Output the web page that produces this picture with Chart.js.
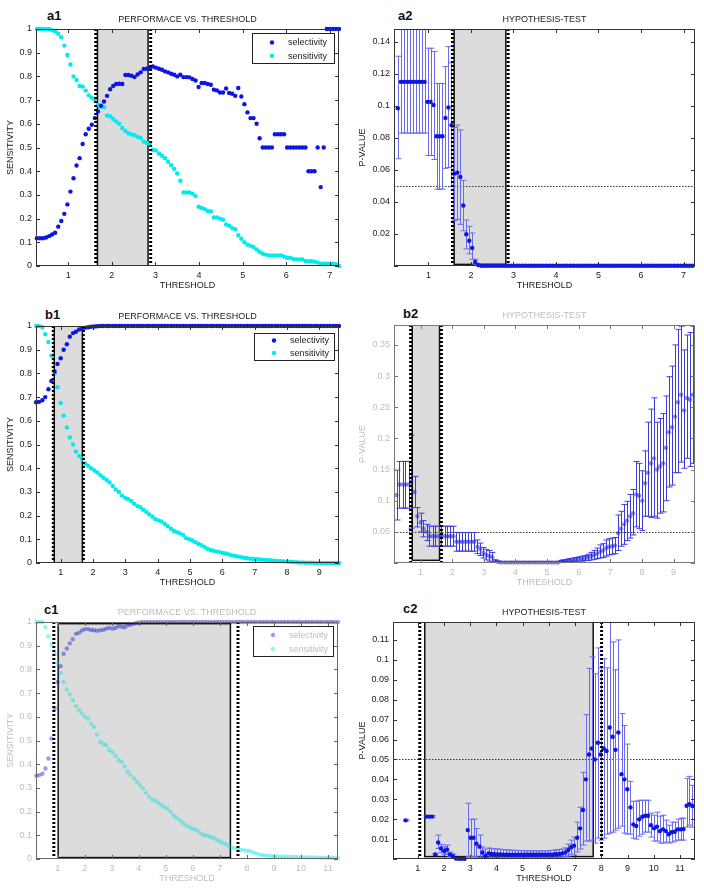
<!DOCTYPE html>
<html>
<head>
<meta charset="utf-8">
<script src="https://cdn.jsdelivr.net/npm/chart.js@4.4.1/dist/chart.umd.min.js"></script>
<style>
body { margin: 0; background: #fff; width: 704px; height: 891px; position: relative; overflow: hidden; font-family: 'Liberation Sans', Arial, sans-serif; }
canvas { position: absolute; }
.tag { position: absolute; font-weight: bold; font-size: 13px; line-height: 13px; color: #111; }
</style>
</head>
<body>
<div class="tag" style="left:47px;top:9px">a1</div>
<div class="tag" style="left:398px;top:9px">a2</div>
<div class="tag" style="left:45px;top:308px">b1</div>
<div class="tag" style="left:403px;top:307px">b2</div>
<div class="tag" style="left:44px;top:603px">c1</div>
<div class="tag" style="left:403px;top:602px">c2</div>
<canvas id="a1"></canvas>
<canvas id="a2"></canvas>
<canvas id="b1"></canvas>
<canvas id="b2"></canvas>
<canvas id="c1"></canvas>
<canvas id="c2"></canvas>
<script>
// ---- thresholds (x values) ----
const thrA = [0.28,0.35,0.42,0.49,0.56,0.63,0.70,0.77,0.84,0.91,
  0.98,1.05,1.12,1.19,1.26,1.33,1.40,1.47,1.54,1.61,
  1.68,1.75,1.82,1.89,1.96,2.03,2.10,2.17,2.24,2.31,
  2.38,2.45,2.52,2.59,2.66,2.73,2.80,2.87,2.94,3.01,
  3.08,3.15,3.22,3.29,3.36,3.43,3.50,3.57,3.64,3.71,
  3.78,3.85,3.92,3.99,4.06,4.13,4.20,4.27,4.34,4.41,
  4.48,4.55,4.62,4.69,4.76,4.83,4.90,4.97,5.04,5.11,
  5.18,5.25,5.32,5.39,5.46,5.53,5.60,5.67,5.74,5.81,
  5.88,5.95,6.02,6.09,6.16,6.23,6.30,6.37,6.44,6.51,
  6.58,6.65,6.72,6.79,6.86,6.93,7.00,7.07,7.14,7.21];

const thrB = [0.24,0.33,0.43,0.52,0.62,0.71,0.81,0.90,1.00,1.09,
  1.19,1.28,1.38,1.47,1.57,1.66,1.76,1.85,1.94,2.04,
  2.13,2.23,2.32,2.42,2.51,2.61,2.70,2.80,2.89,2.99,
  3.08,3.18,3.27,3.37,3.46,3.55,3.65,3.74,3.84,3.93,
  4.03,4.12,4.22,4.31,4.41,4.50,4.60,4.69,4.79,4.88,
  4.98,5.07,5.16,5.26,5.35,5.45,5.54,5.64,5.73,5.83,
  5.92,6.02,6.11,6.21,6.30,6.40,6.49,6.58,6.68,6.77,
  6.87,6.96,7.06,7.15,7.25,7.34,7.44,7.53,7.63,7.72,
  7.82,7.91,8.01,8.10,8.19,8.29,8.38,8.48,8.57,8.67,
  8.76,8.86,8.95,9.05,9.14,9.24,9.33,9.43,9.52,9.61];

const thrC1 = [0.21,0.32,0.44,0.55,0.66,0.77,0.89,1.00,1.11,1.22,
  1.34,1.45,1.56,1.68,1.79,1.90,2.01,2.13,2.24,2.35,
  2.46,2.58,2.69,2.80,2.91,3.03,3.14,3.25,3.37,3.48,
  3.59,3.70,3.82,3.93,4.04,4.15,4.27,4.38,4.49,4.61,
  4.72,4.83,4.94,5.06,5.17,5.28,5.39,5.51,5.62,5.73,
  5.85,5.96,6.07,6.18,6.30,6.41,6.52,6.63,6.75,6.86,
  6.97,7.08,7.20,7.31,7.42,7.54,7.65,7.76,7.87,7.99,
  8.10,8.21,8.32,8.44,8.55,8.66,8.77,8.89,9.00,9.11,
  9.23,9.34,9.45,9.56,9.68,9.79,9.90,10.01,10.13,10.24,
  10.35,10.46,10.58,10.69,10.80,10.92,11.03,11.14,11.25,11.37];

const thrC2 = [0.54,0.65,0.77,0.88,0.99,1.10,1.22,1.33,1.44,1.55,
  1.67,1.78,1.89,2.01,2.12,2.23,2.34,2.46,2.57,2.68,
  2.79,2.91,3.02,3.13,3.24,3.36,3.47,3.58,3.70,3.81,
  3.92,4.03,4.15,4.26,4.37,4.48,4.60,4.71,4.82,4.94,
  5.05,5.16,5.27,5.39,5.50,5.61,5.72,5.84,5.95,6.06,
  6.18,6.29,6.40,6.51,6.63,6.74,6.85,6.96,7.08,7.19,
  7.30,7.41,7.53,7.64,7.75,7.87,7.98,8.09,8.20,8.32,
  8.43,8.54,8.65,8.77,8.88,8.99,9.11,9.22,9.33,9.44,
  9.56,9.67,9.78,9.89,10.01,10.12,10.23,10.35,10.46,10.57,
  10.68,10.80,10.91,11.02,11.13,11.25,11.36,11.47];

// ---- panel a ----
const a1Selectivity = [0.117,0.117,0.117,0.12,0.126,0.133,0.14,0.166,0.19,0.22,
  0.26,0.314,0.37,0.424,0.455,0.515,0.556,0.579,0.596,0.624,
  0.652,0.676,0.694,0.718,0.746,0.76,0.768,0.769,0.768,0.806,
  0.806,0.803,0.797,0.808,0.817,0.831,0.832,0.835,0.842,0.837,
  0.832,0.828,0.821,0.817,0.811,0.807,0.8,0.807,0.797,0.797,
  0.796,0.789,0.783,0.755,0.772,0.772,0.768,0.765,0.744,0.741,
  0.732,0.732,0.749,0.73,0.727,0.718,0.751,0.715,0.683,0.648,
  0.624,0.624,0.6,0.539,0.5,0.5,0.5,0.5,0.556,0.556,
  0.556,0.556,0.5,0.5,0.5,0.5,0.5,0.5,0.5,0.4,
  0.4,0.4,0.5,0.333,0.5,1,1,1,1,1];
const a1Sensitivity = [1,1,1,1,1,0.995,0.99,0.98,0.965,0.93,
  0.89,0.85,0.8,0.785,0.76,0.757,0.74,0.72,0.71,0.7,
  0.68,0.672,0.67,0.635,0.632,0.62,0.61,0.6,0.582,0.57,
  0.56,0.555,0.552,0.545,0.54,0.525,0.52,0.515,0.49,0.488,
  0.475,0.465,0.455,0.44,0.425,0.41,0.39,0.36,0.31,0.31,
  0.31,0.305,0.295,0.25,0.245,0.24,0.232,0.23,0.205,0.205,
  0.2,0.195,0.175,0.17,0.16,0.155,0.13,0.115,0.1,0.09,
  0.085,0.08,0.07,0.06,0.052,0.048,0.045,0.045,0.045,0.045,
  0.045,0.04,0.035,0.035,0.03,0.028,0.028,0.028,0.02,0.02,
  0.02,0.018,0.015,0.01,0.01,0.01,0.01,0.01,0.008,0];
const a2PValue = [0.0985,0.115,0.115,0.115,0.115,0.115,0.115,0.115,0.115,0.115,
  0.1025,0.1025,0.1005,0.081,0.081,0.081,0.0925,0.099,0.088,0.0577,
  0.0583,0.0556,0.0378,0.0198,0.0158,0.0113,0.0025,0.0006,0.0002,0.0002,
  0.0002,0.0002,0.0002,0.0002,0.0002,0.0002,0.0002,0.0002,0.0002,0.0002,
  0.0002,0.0002,0.0002,0.0002,0.0002,0.0002,0.0002,0.0002,0.0002,0.0002,
  0.0002,0.0002,0.0002,0.0002,0.0002,0.0002,0.0002,0.0002,0.0002,0.0002,
  0.0002,0.0002,0.0002,0.0002,0.0002,0.0002,0.0002,0.0002,0.0002,0.0002,
  0.0002,0.0002,0.0002,0.0002,0.0002,0.0002,0.0002,0.0002,0.0002,0.0002,
  0.0002,0.0002,0.0002,0.0002,0.0002,0.0002,0.0002,0.0002,0.0002,0.0002,
  0.0002,0.0002,0.0002,0.0002,0.0002,0.0002,0.0002,0.0002,0.0002,0.0002];
const a2Low = [0.067,0.083,0.083,0.083,0.083,0.083,0.083,0.083,0.083,0.083,
  0.069,0.069,0.0665,0.048,0.048,0.048,0.061,0.0615,0.0495,0.0285,
  0.029,0.026,0.022,0.0107,0.0076,0.0042,0.0008,0.0002];
const a2High = [0.131,0.152,0.152,0.152,0.152,0.152,0.152,0.152,0.152,0.152,
  0.136,0.136,0.134,0.114,0.114,0.114,0.1245,0.137,0.127,0.0865,
  0.088,0.085,0.0535,0.0287,0.0248,0.0206,0.0042,0.001];

// ---- panel b ----
const b1Selectivity = [0.678,0.68,0.687,0.7,0.733,0.768,0.808,0.84,0.864,0.9,
  0.923,0.955,0.97,0.976,0.985,0.99,0.993,0.995,0.997,0.998,
  0.999,1,1,1,1,1,1,1,1,1,
  1,1,1,1,1,1,1,1,1,1,
  1,1,1,1,1,1,1,1,1,1,
  1,1,1,1,1,1,1,1,1,1,
  1,1,1,1,1,1,1,1,1,1,
  1,1,1,1,1,1,1,1,1,1,
  1,1,1,1,1,1,1,1,1,1,
  1,1,1,1,1,1,1,1,1,1];
const b1Sensitivity = [1,1,0.995,0.965,0.932,0.875,0.8,0.742,0.675,0.622,
  0.572,0.53,0.5,0.47,0.452,0.44,0.42,0.41,0.4,0.39,
  0.382,0.37,0.36,0.35,0.34,0.325,0.31,0.3,0.285,0.275,
  0.27,0.262,0.25,0.24,0.235,0.225,0.215,0.205,0.195,0.185,
  0.18,0.175,0.165,0.155,0.145,0.135,0.13,0.125,0.118,0.105,
  0.1,0.095,0.088,0.08,0.075,0.068,0.06,0.055,0.052,0.048,
  0.046,0.042,0.04,0.036,0.032,0.03,0.027,0.025,0.022,0.02,
  0.018,0.017,0.016,0.015,0.014,0.013,0.012,0.011,0.01,0.009,
  0.008,0.007,0.006,0.005,0.004,0.003,0.002,0.002,0.001,0.001,
  0.001,0,0,0,0,0,0,0,0,0];
const b2PValue = [0.109,0.126,0.126,0.126,0.126,0.13,0.114,0.075,0.065,0.055,
  0.05,0.043,0.043,0.043,0.043,0.043,0.043,0.043,0.043,0.043,
  0.034,0.034,0.034,0.034,0.034,0.034,0.034,0.026,0.022,0.016,
  0.013,0.011,0.009,0.003,0.0015,0.001,0.001,0.001,0.001,0.001,
  0.001,0.001,0.001,0.001,0.001,0.001,0.001,0.001,0.001,0.001,
  0.001,0.001,0.001,0.001,0.001,0.003,0.003,0.004,0.004,0.005,
  0.006,0.006,0.007,0.008,0.009,0.011,0.013,0.015,0.018,0.02,
  0.024,0.026,0.027,0.028,0.048,0.055,0.062,0.068,0.075,0.08,
  0.11,0.108,0.1,0.128,0.145,0.16,0.168,0.15,0.155,0.16,
  0.185,0.21,0.218,0.235,0.258,0.27,0.245,0.265,0.262,0.27];
const b2Low = [0.069,0.088,0.088,0.088,0.088,0.056,0.089,0.058,0.05,0.042,
  0.036,0.027,0.027,0.027,0.027,0.027,0.027,0.027,0.027,0.027,
  0.019,0.019,0.019,0.019,0.019,0.019,0.019,0.015,0.012,0.008,
  0.005,0.003,0.002,0.001,0.0005,0.0005,0.0005,0.0005,0.0005,0.0005,
  0.0005,0.0005,0.0005,0.0005,0.0005,0.0005,0.0005,0.0005,0.0005,0.0005,
  0.0005,0.0005,0.0005,0.0005,0.0005,0.002,0.002,0.002,0.002,0.003,
  0.003,0.003,0.003,0.004,0.004,0.005,0.006,0.007,0.008,0.009,
  0.011,0.013,0.014,0.015,0.02,0.027,0.03,0.036,0.04,0.045,
  0.058,0.055,0.052,0.075,0.075,0.073,0.075,0.072,0.08,0.082,
  0.1,0.122,0.125,0.145,0.145,0.162,0.152,0.168,0.155,0.16];
const b2High = [0.149,0.163,0.163,0.163,0.163,0.205,0.139,0.089,0.08,0.068,
  0.062,0.059,0.059,0.059,0.059,0.059,0.059,0.059,0.059,0.059,
  0.049,0.049,0.049,0.049,0.049,0.049,0.049,0.037,0.032,0.025,
  0.022,0.02,0.017,0.005,0.003,0.0015,0.0015,0.0015,0.0015,0.0015,
  0.0015,0.0015,0.0015,0.0015,0.0015,0.0015,0.0015,0.0015,0.0015,0.0015,
  0.0015,0.0015,0.0015,0.0015,0.0015,0.004,0.005,0.006,0.007,0.008,
  0.009,0.01,0.011,0.012,0.014,0.017,0.02,0.024,0.029,0.031,
  0.037,0.039,0.04,0.041,0.077,0.083,0.094,0.099,0.11,0.118,
  0.163,0.16,0.148,0.18,0.226,0.247,0.265,0.226,0.232,0.24,
  0.268,0.299,0.316,0.35,0.375,0.38,0.342,0.366,0.37,0.38];

// ---- panel c ----
const c1Selectivity = [0.351,0.354,0.36,0.382,0.424,0.508,0.635,0.747,0.813,0.866,
  0.888,0.91,0.927,0.95,0.955,0.964,0.97,0.97,0.966,0.965,
  0.963,0.965,0.967,0.972,0.976,0.972,0.975,0.982,0.98,0.978,
  0.986,0.988,0.993,0.997,0.998,1,1,1,1,1,
  1,1,1,1,1,1,1,1,1,1,
  1,1,1,1,1,1,1,1,1,1,
  1,1,1,1,1,1,1,1,1,1,
  1,1,1,1,1,1,1,1,1,1,
  1,1,1,1,1,1,1,1,1,1,
  1,1,1,1,1,1,1,1,1,1];
const c1Sensitivity = [1,1,1,0.979,0.94,0.905,0.865,0.825,0.785,0.747,
  0.715,0.694,0.67,0.645,0.628,0.614,0.6,0.593,0.571,0.557,
  0.525,0.494,0.485,0.48,0.46,0.45,0.435,0.417,0.41,0.39,
  0.368,0.354,0.34,0.326,0.312,0.298,0.28,0.263,0.251,0.246,
  0.237,0.228,0.22,0.213,0.2,0.185,0.174,0.164,0.153,0.143,
  0.136,0.129,0.125,0.119,0.108,0.101,0.098,0.094,0.091,0.083,
  0.076,0.069,0.063,0.056,0.049,0.045,0.041,0.038,0.038,0.035,
  0.035,0.028,0.024,0.02,0.017,0.015,0.014,0.013,0.012,0.012,
  0.011,0.011,0.01,0.01,0.009,0.009,0.008,0.008,0.008,0.007,
  0.007,0.007,0.006,0.006,0.006,0.005,0.005,0.005,0.004,0.003];
const c2PValue = [0.0194,null,null,null,null,null,null,0.0213,0.0213,0.0213,
  0.0023,0.0083,0.0053,0.004,0.0048,0.0023,0.0015,0.0002,0.0001,0.0001,
  0.0001,0.0145,0.0107,0.0107,0.0077,0.0062,0.0033,0.0015,0.0028,0.0025,
  0.0024,0.0023,0.0023,0.0022,0.0022,0.0022,0.0021,0.0021,0.0021,0.0022,
  0.0021,0.0021,0.0022,0.0021,0.0021,0.0021,0.0022,0.0021,0.0022,0.0022,
  0.0023,0.0024,0.0025,0.0028,0.0033,0.0045,0.0059,0.0067,0.0107,0.0154,
  0.0246,0.04,0.0525,0.0555,0.05,0.0584,0.0525,0.0555,0.0542,0.066,
  0.0614,0.0548,0.0635,0.0426,0.04,0.035,0.0259,0.0174,0.0166,0.0199,
  0.0212,0.0217,0.0217,0.017,0.0154,0.0162,0.014,0.0149,0.014,0.0124,
  0.0134,0.0137,0.0149,0.0149,0.015,0.0267,0.0275,0.0266];
const c2Low = [0.019,null,null,null,null,null,null,0.0208,0.0208,0.0208,
  0.0018,0.0053,0.0032,0.0022,0.0028,0.0012,0.0008,null,null,null,
  null,0.0012,0.0012,0.0012,0.001,0.0007,0.0006,0.0005,0.0008,0.0008,
  0.0008,0.0008,0.0008,0.0008,0.0008,0.0008,0.0008,0.0008,0.0008,0.0008,
  0.0008,0.0008,0.0008,0.0008,0.0008,0.0008,0.0008,0.0008,0.0008,0.0008,
  0.0008,0.0009,0.0009,0.001,0.0012,0.0015,0.0025,0.002,0.0035,0.005,
  0.007,0.009,0.009,0.0095,0.008,0.0105,0.0095,0.0105,0.0125,0.013,
  0.0135,0.0145,0.0155,0.0165,0.013,0.0125,0.0125,0.0105,0.01,0.0115,
  0.0125,0.0135,0.0135,0.011,0.009,0.009,0.008,0.008,0.0085,0.008,
  0.0085,0.009,0.0095,0.0095,0.0095,0.016,0.017,0.016];
const c2High = [0.0198,null,null,null,null,null,null,0.0218,0.0218,0.0218,
  0.0028,0.012,0.0073,0.0062,0.007,0.0035,0.0025,null,null,null,
  null,0.028,0.02,0.02,0.0153,0.012,0.006,0.005,0.0055,0.0053,
  0.0052,0.005,0.0049,0.0047,0.0046,0.0045,0.0044,0.0043,0.0043,0.0042,
  0.0042,0.0041,0.0041,0.0041,0.0041,0.0041,0.0041,0.0041,0.0042,0.0043,
  0.0044,0.0046,0.0048,0.005,0.0056,0.0075,0.0095,0.011,0.0185,0.026,
  0.0435,0.0725,0.0957,0.1015,0.093,0.106,0.096,0.1005,0.096,0.121,
  0.109,0.095,0.11,0.073,0.067,0.0577,0.039,0.029,0.029,0.0295,
  0.0295,0.0295,0.0295,0.023,0.022,0.0235,0.0215,0.022,0.0195,0.017,
  0.0185,0.0185,0.02,0.0205,0.0205,0.0405,0.0415,0.037];

// ---- styling ----
const FONT = "'Liberation Sans', Arial, Helvetica, sans-serif";
Chart.defaults.font.family = FONT;
Chart.defaults.font.size = 9;

const INK = '#222';
const FADED = '#bdbdbd';
const BLUE = 'rgb(12,22,228)';
const CYAN = 'rgb(0,235,235)';

const fmt = v => String(+Number(v).toFixed(3));
const pts = (xs, ys) => xs.map((x, i) => ({ x, y: ys[i] }));

function deco(p) {
  return {
    id: 'deco',
    beforeDatasetsDraw(chart) {
      const { ctx, chartArea: a, scales: { x, y } } = chart;
      ctx.save();
      ctx.beginPath();
      ctx.rect(a.left, a.top, a.width, a.height);
      ctx.clip();
      const bl = x.getPixelForValue(p.band[0]), br = x.getPixelForValue(p.band[1]);
      const bt = y.getPixelForValue(p.band[3]), bb = y.getPixelForValue(p.band[2]);
      ctx.fillStyle = '#dcdcdc';
      ctx.fillRect(bl, bt, br - bl, bb - bt);
      ctx.strokeStyle = '#111';
      ctx.lineWidth = 1.5;
      ctx.strokeRect(bl, bt, br - bl, bb - bt);
      if (p.alpha != null) {
        const yy = Math.round(y.getPixelForValue(p.alpha)) + 0.5;
        ctx.strokeStyle = '#333';
        ctx.lineWidth = 1;
        ctx.setLineDash([1.5, 1.5]);
        ctx.beginPath();
        ctx.moveTo(a.left, yy);
        ctx.lineTo(a.right, yy);
        ctx.stroke();
        ctx.setLineDash([]);
      }
      chart.data.datasets.forEach(ds => {
        if (!ds.errLow) return;
        ctx.strokeStyle = ds.errColor;
        ctx.lineWidth = 1;
        ds.errLow.forEach((lo, i) => {
          const hi = ds.errHigh[i];
          if (lo == null || hi == null) return;
          const px = Math.round(x.getPixelForValue(ds.data[i].x)) + 0.5;
          const y1 = y.getPixelForValue(lo), y2 = y.getPixelForValue(hi);
          ctx.beginPath();
          ctx.moveTo(px, y1); ctx.lineTo(px, y2);
          ctx.moveTo(px - 3, y1); ctx.lineTo(px + 3, y1);
          ctx.moveTo(px - 3, y2); ctx.lineTo(px + 3, y2);
          ctx.stroke();
        });
      });
      ctx.restore();
    },
    afterDatasetsDraw(chart) {
      const { ctx, chartArea: a, scales: { x } } = chart;
      ctx.save();
      ctx.strokeStyle = '#000';
      ctx.lineWidth = 3;
      ctx.setLineDash([2, 2]);
      p.cuts.forEach(v => {
        const px = x.getPixelForValue(v);
        ctx.beginPath();
        ctx.moveTo(px, a.top);
        ctx.lineTo(px, a.bottom);
        ctx.stroke();
      });
      ctx.restore();
    },
    afterDraw(chart) {
      const { ctx, chartArea: a, scales: { x, y } } = chart;
      ctx.save();
      ctx.strokeStyle = p.frame;
      ctx.lineWidth = 1;
      ctx.strokeRect(a.left + 0.5, a.top + 0.5, a.width - 1, a.height - 1);
      ctx.beginPath();
      x.ticks.forEach(t => {
        const px = Math.round(x.getPixelForValue(t.value)) + 0.5;
        ctx.moveTo(px, a.bottom); ctx.lineTo(px, a.bottom - 4);
        ctx.moveTo(px, a.top); ctx.lineTo(px, a.top + 4);
      });
      y.ticks.forEach(t => {
        const py = Math.round(y.getPixelForValue(t.value)) + 0.5;
        ctx.moveTo(a.left, py); ctx.lineTo(a.left + 4, py);
        ctx.moveTo(a.right, py); ctx.lineTo(a.right - 4, py);
      });
      ctx.stroke();
      if (p.legend) {
        const L = p.legend;
        const bx = Math.round(a.right - L.right - L.w), by = Math.round(a.top + L.top);
        ctx.fillStyle = '#fff';
        ctx.fillRect(bx, by, L.w, L.h);
        ctx.strokeStyle = '#222';
        ctx.strokeRect(bx + 0.5, by + 0.5, L.w, L.h);
        ctx.font = '9px ' + FONT;
        ctx.textBaseline = 'middle';
        ctx.textAlign = 'left';
        chart.data.datasets.forEach((ds, k) => {
          const ry = by + L.rows[k];
          ctx.fillStyle = ds.pointBackgroundColor;
          ctx.beginPath();
          ctx.arc(bx + 20, ry, 2.2, 0, Math.PI * 2);
          ctx.fill();
          ctx.fillStyle = p.text;
          ctx.fillText(ds.label, bx + 36, ry + 0.5);
        });
      }
      ctx.restore();
    }
  };
}

function panel(id, geo, p, datasets) {
  const cv = document.getElementById(id);
  const w = 352, h = (geo.B - geo.T) + 17 + 26;
  cv.width = w; cv.height = h;
  cv.style.left = geo.col + 'px';
  cv.style.top = (geo.T - 17) + 'px';
  cv.style.width = w + 'px';
  cv.style.height = h + 'px';
  const yW = geo.L - geo.col, padR = geo.col + w - geo.R;
  new Chart(cv, {
    type: 'scatter',
    data: { datasets },
    options: {
      responsive: false,
      animation: false,
      devicePixelRatio: 1,
      events: [],
      layout: { padding: { left: 0, right: padR, top: 0, bottom: 0 } },
      plugins: {
        legend: { display: false },
        tooltip: { enabled: false },
        title: {
          display: true, text: p.title, color: p.text, fullSize: false,
          font: { size: 9, weight: 'normal' }, padding: { top: 2.6, bottom: 3.6 }
        }
      },
      scales: {
        x: {
          type: 'linear', min: p.x[0], max: p.x[1],
          grid: { display: false, drawTicks: false }, border: { display: false },
          ticks: { stepSize: 1, includeBounds: false, autoSkip: false, maxRotation: 0,
                   color: p.text, padding: 4.6, font: { size: 9 }, callback: v => fmt(v) },
          title: { display: true, text: 'THRESHOLD', color: p.text, font: { size: 9 },
                   padding: { top: 0, bottom: 1 } },
          afterFit: s => { s.height = 26; }
        },
        y: {
          type: 'linear', min: p.y[0], max: p.y[1],
          grid: { display: false, drawTicks: false }, border: { display: false },
          ticks: { stepSize: p.y[2], includeBounds: false, autoSkip: false,
                   color: p.text, padding: 4, font: { size: 9 },
                   callback: v => (p.hideZero && v === 0) ? '' : fmt(v) },
          title: { display: true, text: p.yTitle, color: p.text, font: { size: 9 },
                   padding: { top: 5.6, bottom: 0 } },
          afterFit: s => { s.width = yW; }
        }
      }
    },
    plugins: [deco(p)]
  });
}

function dots(label, xs, ys, color, extra) {
  return Object.assign({
    label, data: pts(xs, ys), pointRadius: 2.2, pointBorderWidth: 0,
    pointBackgroundColor: color, backgroundColor: color, borderColor: color,
    showLine: false, clip: false
  }, extra || {});
}

const PERF = 'PERFORMACE VS. THRESHOLD';
const HYP = 'HYPOTHESIS-TEST';

panel('a1', { col: 0, L: 36, T: 29, R: 339, B: 266 },
  { title: PERF, yTitle: 'SENSITIVITY', text: INK, frame: '#333',
    x: [0.26, 7.21], y: [0, 1, 0.1], band: [1.67, 2.83, 0, 1], cuts: [1.63, 2.89],
    legend: { right: 5, top: 4, w: 82, h: 30, rows: [9.5, 22.7] } },
  [dots('selectivity', thrA, a1Selectivity, BLUE), dots('sensitivity', thrA, a1Sensitivity, CYAN)]);

panel('a2', { col: 352, L: 394, T: 29, R: 695, B: 266 },
  { title: HYP, yTitle: 'P-VALUE', text: INK, frame: '#333', hideZero: true,
    x: [0.19, 7.27], y: [0, 0.148, 0.02], band: [1.605, 2.82, 0.001, 0.148], cuts: [1.565, 2.875], alpha: 0.05 },
  [dots('p-value', thrA, a2PValue, BLUE, { errLow: a2Low, errHigh: a2High, errColor: 'rgb(105,105,245)' })]);

panel('b1', { col: 0, L: 36, T: 326, R: 339, B: 563 },
  { title: PERF, yTitle: 'SENSITIVITY', text: INK, frame: '#333',
    x: [0.235, 9.61], y: [0, 1, 0.1], band: [0.80, 1.67, 0, 1], cuts: [0.77, 1.70],
    legend: { right: 5, top: 7, w: 80, h: 27, rows: [7.5, 20] } },
  [dots('selectivity', thrB, b1Selectivity, BLUE), dots('sensitivity', thrB, b1Sensitivity, CYAN)]);

panel('b2', { col: 352, L: 394, T: 325, R: 695, B: 563 },
  { title: HYP, yTitle: 'P-VALUE', text: FADED, frame: '#777', hideZero: true,
    x: [0.16, 9.68], y: [0, 0.382, 0.05], band: [0.737, 1.60, 0.0043, 0.382], cuts: [0.684, 1.66], alpha: 0.05 },
  [dots('p-value', thrB, b2PValue, 'rgba(40,40,230,0.55)', { errLow: b2Low, errHigh: b2High, errColor: 'rgb(60,60,228)' })]);

panel('c1', { col: 0, L: 36, T: 622, R: 338, B: 859 },
  { title: PERF, yTitle: 'SENSITIVITY', text: FADED, frame: '#666',
    x: [0.2, 11.37], y: [0, 1, 0.1], band: [1.02, 7.39, 0.006, 0.993], cuts: [0.86, 7.67],
    legend: { right: 5, top: 4, w: 80, h: 30, rows: [9, 23] } },
  [dots('selectivity', thrC1, c1Selectivity, 'rgba(20,20,215,0.42)'), dots('sensitivity', thrC1, c1Sensitivity, 'rgba(0,220,220,0.4)')]);

panel('c2', { col: 352, L: 393, T: 622, R: 695, B: 859 },
  { title: HYP, yTitle: 'P-VALUE', text: INK, frame: '#333', hideZero: true,
    x: [0.06, 11.57], y: [0, 0.119, 0.01], band: [1.27, 7.69, 0.0012, 0.119], cuts: [1.08, 8.01], alpha: 0.05 },
  [dots('p-value', thrC2, c2PValue, BLUE, { errLow: c2Low, errHigh: c2High, errColor: 'rgb(105,105,245)' })]);
</script>
</body>
</html>
